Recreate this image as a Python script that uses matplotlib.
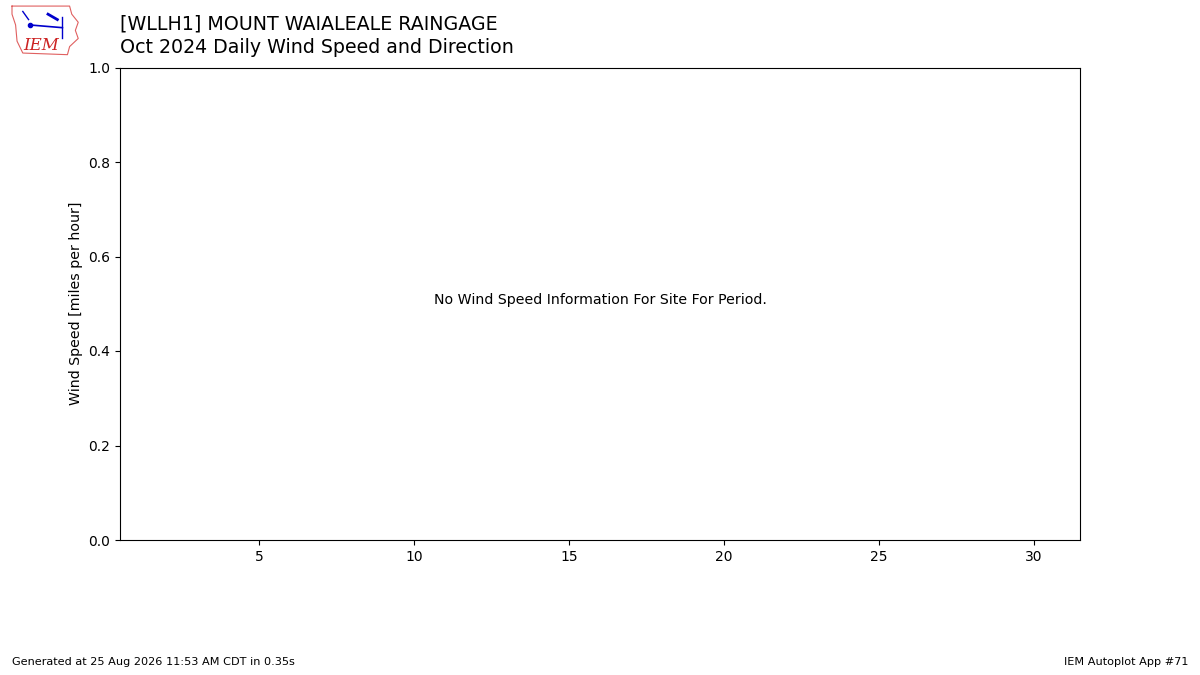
import matplotlib
matplotlib.use("Agg")
import matplotlib.pyplot as plt

# Chart texts
station = "[WLLH1] MOUNT WAIALEALE RAINGAGE"
subtitle = "Oct 2024 Daily Wind Speed and Direction"
ylabel = "Wind Speed [miles per hour]"
message = "No Wind Speed Information For Site For Period."
footer_left = "Generated at 25 Aug 2026 11:53 AM CDT in 0.35s"
footer_right = "IEM Autoplot App #71"

# Axis setup
xlim = (0.5, 31.5)
xticks = [5, 10, 15, 20, 25, 30]
yticks = [0.0, 0.2, 0.4, 0.6, 0.8, 1.0]

# Rough Iowa outline for the logo
iowa_x = [0.05, 0.85, 0.88, 0.97, 0.93, 0.97, 0.85, 0.82, 0.2, 0.12, 0.1, 0.05, 0.05]
iowa_y = [0.95, 0.95, 0.8, 0.65, 0.5, 0.35, 0.2, 0.05, 0.08, 0.3, 0.6, 0.8, 0.95]


fig = plt.figure(figsize=(12, 6.75), dpi=100)

# Main axes
ax = fig.add_axes([0.1, 0.2, 0.8, 0.7])
ax.set_xlim(*xlim)
ax.set_ylim(0, 1)
ax.set_xticks(xticks)
ax.set_yticks(yticks)
ax.set_ylabel(ylabel, fontsize=10.2)
ax.text(0.5, 0.5, message, transform=ax.transAxes, ha="center", fontsize=10.2)

# Titles
fig.text(0.1, 0.965, station, fontsize=13.7, va="center")
fig.text(0.1, 0.929, subtitle, fontsize=13.7, va="center")

# Footer
fig.text(0.01, 0.015, footer_left, fontsize=8.15)
fig.text(0.99, 0.015, footer_right, fontsize=8.15, ha="right")

# Logo
lax = fig.add_axes([0.007, 0.915, 0.06, 0.08])
lax.plot(iowa_x, iowa_y, color="#e06060", linewidth=0.8)
lax.plot([0.3, 0.75], [0.6, 0.55], color="#0000cc", linewidth=1.2)
lax.plot([0.3], [0.6], "o", color="#0000cc", markersize=3)
lax.plot([0.75, 0.75], [0.75, 0.35], color="#0000cc", linewidth=1)
lax.plot([0.2, 0.28], [0.85, 0.7], color="#0000cc", linewidth=1)
lax.plot([0.55, 0.68], [0.8, 0.7], color="#0000cc", linewidth=2)
lax.text(0.45, 0.22, "IEM", color="#cc2222", fontsize=12, family="DejaVu Serif",
         style="italic", ha="center", va="center")
lax.set_xlim(0, 1)
lax.set_ylim(0, 1)
lax.axis("off")

fig.savefig("out.png", dpi=100)
